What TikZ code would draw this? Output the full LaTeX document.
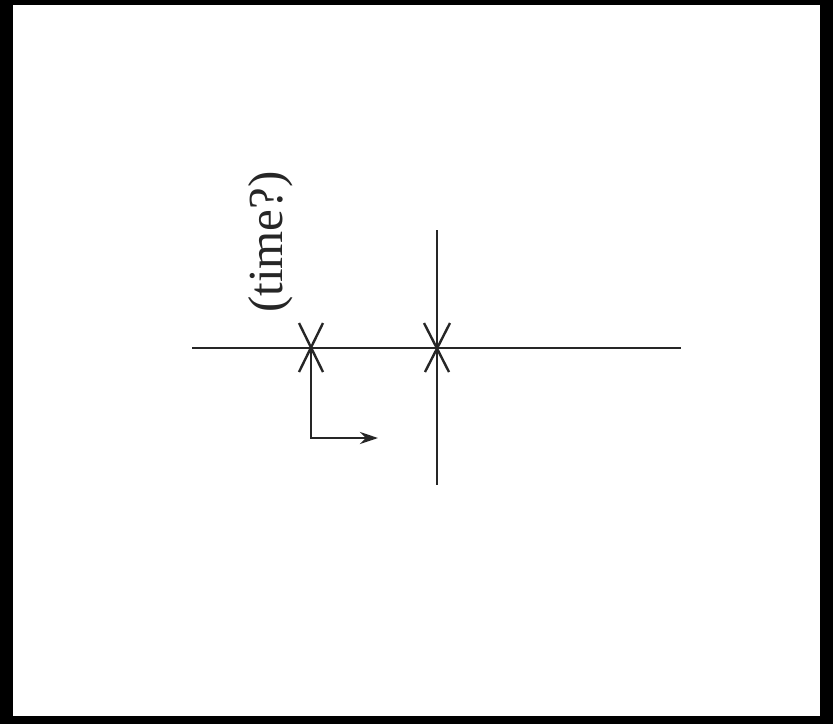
\documentclass[tikz,border=0pt]{standalone}
\usepackage{fontspec}
\setmainfont{Liberation Serif}
\usetikzlibrary{arrows.meta,calc}
\begin{document}
\begin{tikzpicture}[x=1pt,y=-1pt,
  ln/.style={line width=2.8pt,black!85},
  xm/.style={line width=2.4pt,black!85},
  lbl/.style={font=\fontsize{49}{58}\selectfont,rotate=90,inner sep=0pt,text=black!85}]
\fill[black] (0,0) rectangle (833,724);
\fill[white] (13,5) rectangle (820,716);
\useasboundingbox (0,0) rectangle (833,724);
% lines
\coordinate (hl) at (192,348);
\coordinate (hr) at (681,348);
\coordinate (vt) at (437,230);
\coordinate (vb) at (437,485);
\coordinate (x1) at (311,348);
\coordinate (x2) at (437,348);
\coordinate (corner) at (311,438);
\coordinate (tip) at (378,438);
\draw[ln] (hl) -- (hr);
\draw[ln] (vt) -- (vb);
% X marks
\draw[xm] ($(x1)+(-12,-25)$) -- ($(x1)+(12,24)$);
\draw[xm] ($(x1)+(12,-25)$) -- ($(x1)+(-12,24)$);
\draw[xm] ($(x2)+(-13,-25)$) -- ($(x2)+(12,24)$);
\draw[xm] ($(x2)+(13,-25)$) -- ($(x2)+(-12,24)$);
% arrow
\draw[ln,-{Stealth[length=18pt,width=12pt]}] (x1) -- (corner) -- (tip);
\node[lbl] (t) at (271,242) {(time?)};
\end{tikzpicture}
\end{document}
